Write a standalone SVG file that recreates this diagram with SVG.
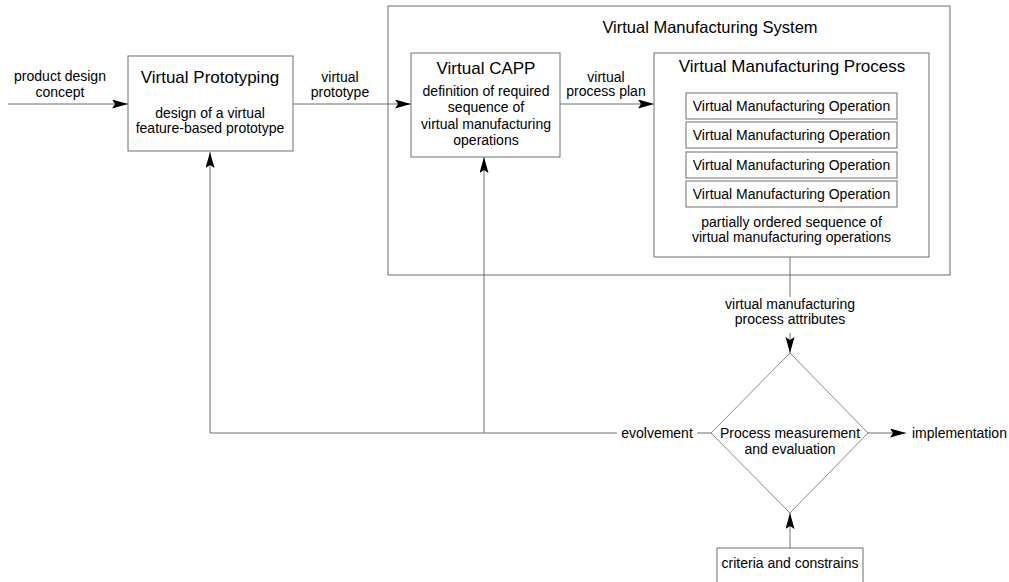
<svg xmlns="http://www.w3.org/2000/svg" width="1009" height="582" viewBox="0 0 1009 582">
<defs>
<style>
.box{fill:#fff;stroke:#6e6e6e;stroke-width:1}
.frame{fill:none;stroke:#6e6e6e;stroke-width:1}
.ln{fill:none;stroke:#6e6e6e;stroke-width:1}
.lt{fill:none;stroke:#a0a0a0;stroke-width:1.5}
text{font-family:"Liberation Sans",Arial,sans-serif;font-size:14px;fill:#000;text-anchor:middle}
.t{font-size:17px}
.ts{font-size:16.5px}
.l{text-anchor:start}
</style>
<marker id="ah" markerUnits="userSpaceOnUse" markerWidth="18" markerHeight="10" refX="16" refY="4.5" orient="auto">
<path d="M0,0 L16,4.5 L0,9 L3,4.5 Z" fill="#000"/>
</marker>
</defs>

<g id="connectors">
<line class="ln" x1="8" y1="104" x2="128" y2="104" marker-end="url(#ah)"/>
<line class="ln" x1="293" y1="104" x2="411" y2="104" marker-end="url(#ah)"/>
<line class="ln" x1="560" y1="104" x2="654" y2="104" marker-end="url(#ah)"/>
<line class="lt" x1="790" y1="257" x2="790" y2="297"/>
<line class="ln" x1="790" y1="333" x2="790" y2="353" marker-end="url(#ah)"/>
<polyline class="ln" points="617,433 210,433 210,152" marker-end="url(#ah)"/>
<line class="ln" x1="484" y1="433" x2="484" y2="157" marker-end="url(#ah)"/>
<line class="ln" x1="697" y1="433" x2="711" y2="433"/>
<line class="ln" x1="868" y1="433" x2="906" y2="433" marker-end="url(#ah)"/>
<line class="lt" x1="790" y1="548" x2="790" y2="513" marker-end="url(#ah)"/>
<text x="60" y="81">product design</text>
<text x="60" y="97">concept</text>
<text x="340" y="82">virtual</text>
<text x="340" y="97">prototype</text>
<text x="606" y="82">virtual</text>
<text x="606" y="96">process plan</text>
<text x="790" y="309">virtual manufacturing</text>
<text x="790" y="324">process attributes</text>
<text x="657" y="438">evolvement</text>
<text class="l" x="912" y="438">implementation</text>
</g>

<g id="vms">
<rect class="frame" x="388" y="6" width="562" height="269"/>
<text class="ts" x="710" y="33">Virtual Manufacturing System</text>
</g>

<g id="virtual-prototyping">
<rect class="box" x="128" y="56" width="165" height="95"/>
<text class="t" x="210" y="83">Virtual Prototyping</text>
<text x="210" y="118">design of a virtual</text>
<text x="210" y="133">feature-based prototype</text>
</g>

<g id="virtual-capp">
<rect class="box" x="411" y="53" width="149" height="104"/>
<text class="t" x="486" y="74">Virtual CAPP</text>
<text x="486" y="96">definition of required</text>
<text x="486" y="112">sequence of</text>
<text x="486" y="129">virtual manufacturing</text>
<text x="486" y="145">operations</text>
</g>

<g id="vmp">
<rect class="box" x="654" y="53" width="275" height="204"/>
<text class="t" x="792" y="72">Virtual Manufacturing Process</text>
<g id="op1"><rect class="box" x="686" y="93" width="211" height="26"/><text x="791.5" y="111">Virtual Manufacturing Operation</text></g>
<g id="op2"><rect class="box" x="686" y="122" width="211" height="26"/><text x="791.5" y="140">Virtual Manufacturing Operation</text></g>
<g id="op3"><rect class="box" x="686" y="152" width="211" height="26"/><text x="791.5" y="170">Virtual Manufacturing Operation</text></g>
<g id="op4"><rect class="box" x="686" y="181" width="211" height="26"/><text x="791.5" y="199">Virtual Manufacturing Operation</text></g>
<text x="791.5" y="227">partially ordered sequence of</text>
<text x="791.5" y="242">virtual manufacturing operations</text>
</g>

<g id="evaluation">
<polygon points="790,353 868,433 790,513 711,433" fill="#fff" stroke="#8a8a8a" stroke-width="1"/>
<text x="790" y="438">Process measurement</text>
<text x="790" y="454">and evaluation</text>
</g>

<g id="criteria">
<rect class="box" x="717" y="548" width="146" height="40"/>
<text x="790" y="568">criteria and constrains</text>
</g>
</svg>
